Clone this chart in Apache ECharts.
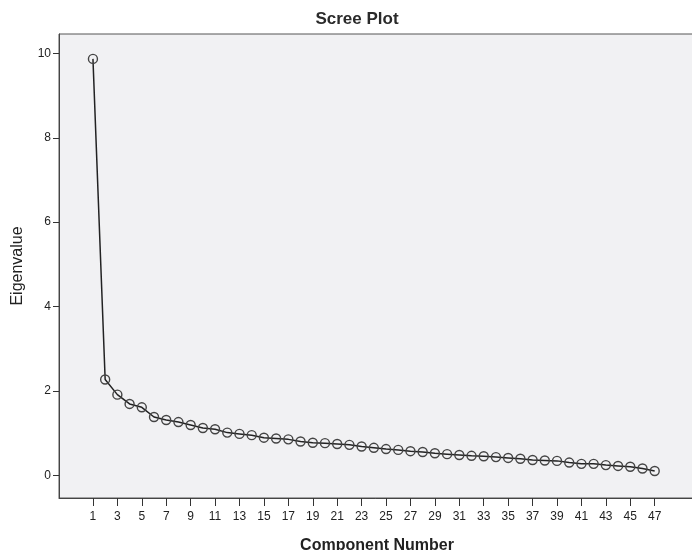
<!DOCTYPE html>
<html>
<head>
<meta charset="utf-8">
<title>Scree Plot</title>
<script src="https://cdn.jsdelivr.net/npm/echarts@6/dist/echarts.min.js"></script>
<style>
html, body { margin: 0; padding: 0; background: #fff; }
#main { width: 692px; height: 550px; }
</style>
</head>
<body>
<div id="main"></div>
<script>
// component numbers and their eigenvalues
var components = [];
for (var i = 1; i <= 47; i++) components.push(i);
var eigenvalues = [
	9.87, 2.27, 1.91, 1.69, 1.61, 1.38, 1.31, 1.26, 1.19, 1.12,
	1.09, 1.01, 0.98, 0.95, 0.89, 0.87, 0.85, 0.80, 0.77, 0.76,
	0.74, 0.72, 0.68, 0.65, 0.62, 0.60, 0.57, 0.55, 0.52, 0.50,
	0.48, 0.46, 0.45, 0.43, 0.41, 0.39, 0.36, 0.35, 0.34, 0.30,
	0.27, 0.27, 0.24, 0.22, 0.20, 0.16, 0.10
];
var xTicks = [1, 3, 5, 7, 9, 11, 13, 15, 17, 19, 21, 23, 25, 27, 29, 31, 33, 35, 37, 39, 41, 43, 45, 47];
var yTicks = [0, 2, 4, 6, 8, 10];

var points = components.map(function (c, k) { return [c, eigenvalues[k]]; });
var font = 'Liberation Sans, Arial, sans-serif';

var chart = echarts.init(document.getElementById('main'));
chart.setOption({
	animation: false,
	backgroundColor: '#fff',
	title: {
		text: 'Scree Plot',
		left: 352,
		top: 6,
		textAlign: 'center',
		textStyle: { fontFamily: font, fontSize: 17, fontWeight: 'bold', color: '#2a2a2a' }
	},
	grid: {
		left: 59, right: -3, top: 34, bottom: 52,
		outerBoundsMode: 'none',
		containLabel: false,
		show: true,
		backgroundColor: '#f1f1f3',
		borderColor: '#555',
		borderWidth: 1
	},
	xAxis: {
		type: 'value',
		min: -1.78,
		max: 50.3,
		name: 'Component Number',
		nameLocation: 'middle',
		nameGap: 40,
		nameTextStyle: { fontFamily: font, fontSize: 16, fontWeight: 'bold', color: '#222' },
		splitLine: { show: false },
		axisLine: { show: true, onZero: false, lineStyle: { color: '#444', width: 1 } },
		axisTick: { show: true, length: 8, customValues: xTicks, lineStyle: { color: '#333' } },
		axisLabel: { customValues: xTicks, margin: 13, fontFamily: font, fontSize: 12, color: '#222' }
	},
	yAxis: {
		type: 'value',
		min: -0.54,
		max: 10.46,
		name: 'Eigenvalue',
		nameLocation: 'middle',
		nameGap: 33,
		nameTextStyle: { fontFamily: font, fontSize: 16, color: '#222' },
		splitLine: { show: false },
		axisLine: { show: true, onZero: false, lineStyle: { color: '#444', width: 1 } },
		axisTick: { show: true, length: 6, customValues: yTicks, lineStyle: { color: '#333' } },
		axisLabel: { customValues: yTicks, margin: 8, fontFamily: font, fontSize: 12, color: '#222' }
	},
	series: [{
		type: 'line',
		data: points,
		symbol: 'circle',
		symbolSize: 9,
		lineStyle: { color: '#222', width: 1.5 },
		itemStyle: { color: 'rgba(0,0,0,0)', borderColor: '#444', borderWidth: 1.4 }
	}]
});
</script>
</body>
</html>
